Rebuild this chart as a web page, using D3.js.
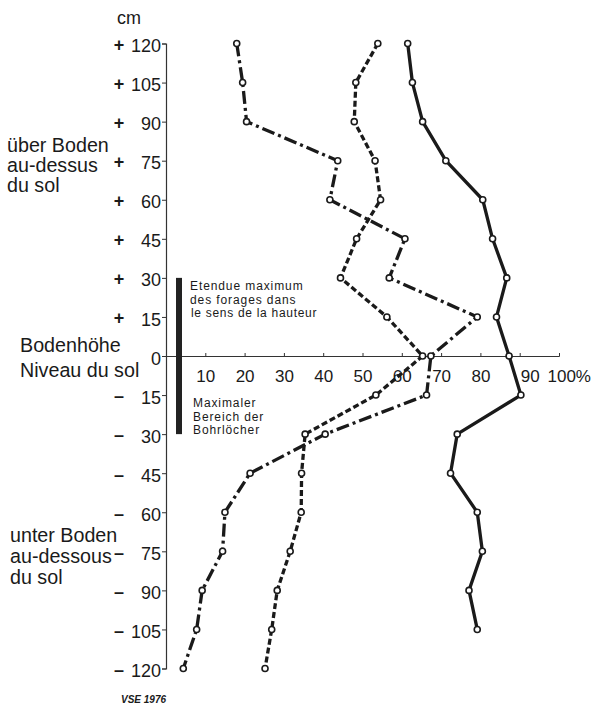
<!DOCTYPE html>
<html><head><meta charset="utf-8">
<script src="https://cdn.jsdelivr.net/npm/d3@7"></script>
<style>
html,body{margin:0;padding:0;background:#fff;}
text{fill:#1a1a1a;}
.narrow{font-family:'Liberation Sans',Arimo,Arial,sans-serif;}
.reg{font-family:'Liberation Sans',Arimo,Arial,sans-serif;}
</style></head><body>
<svg id="c" width="598" height="709"></svg>
<script>
// Heights above (+) / below (-) ground level, cm
const depths = [120,105,90,75,60,45,30,15,0,-15,-30,-45,-60,-75,-90,-105,-120];
// Percent values per series
const chainValues  = [18,19.5,20.5,43.7,41.7,60.8,56.8,79.2,67.4,66.3,40.5,21.4,15,14.4,9.2,7.8,4.4];
const dashedValues = [53.9,48.3,47.9,53.2,54.6,48.5,44.4,56.2,65.3,53.4,35.4,34.5,34.4,31.6,28.3,26.9,25.2];
const solidValues  = [61.5,62.7,65.3,71.2,80.6,83.1,86.7,84.1,87.3,90.3,74.1,72.4,79.2,80.5,77.1,79.2,null];
const yTicks = [120,105,90,75,60,45,30,15,0,-15,-30,-45,-60,-75,-90,-105,-120];
const xTicks = [10,20,30,40,50,60,70,80,90,100];

const svg = d3.select('#c');
const x = d3.scaleLinear().domain([0,100]).range([166,559]);
const y = d3.scaleLinear().domain([-120,120]).range([668.5,43.5]);

// y axis
const yAxis = d3.axisLeft(y).tickValues(yTicks).tickSize(4).tickPadding(1)
  .tickFormat(d => Math.abs(d));
const gy = svg.append('g').attr('transform','translate(166,0)').call(yAxis);
gy.attr('font-family',null).attr('font-size',null);
gy.select('.domain').attr('stroke','#333').attr('stroke-width',1.2);
gy.selectAll('.tick line').attr('stroke','#333');
gy.selectAll('.tick text').attr('class','reg').attr('font-size',18).attr('fill','#1a1a1a').attr('dy','0.45em');
gy.selectAll('.tick').append('text').attr('class','reg')
  .attr('x',-47).attr('dy','0.38em').attr('text-anchor','middle')
  .attr('font-size',18).attr('font-weight','bold').attr('fill','#1a1a1a')
  .text(d => d > 0 ? '+' : (d < 0 ? '\u2013' : ''));

// x axis along ground level
const xAxis = d3.axisBottom(x).tickValues(xTicks).tickSize(-3).tickPadding(14)
  .tickFormat(d => d === 100 ? '100%' : d);
const gx = svg.append('g').attr('transform',`translate(0,${y(0)})`).call(xAxis);
gx.attr('font-family',null).attr('font-size',null);
gx.select('.domain').attr('stroke','#333').attr('stroke-width',1);
gx.selectAll('.tick line').attr('stroke','#333');
gx.selectAll('.tick text').attr('class','reg').attr('font-size',17).attr('fill','#1a1a1a');
gx.selectAll('.tick text').filter(d => d === 100).attr('text-anchor','start').attr('dx',-12);
gx.selectAll('.tick text').filter(d => d === 90).attr('dx',10);

// range bar
svg.append('rect').attr('x',176).attr('width',6)
  .attr('y',y(30)).attr('height',y(-30)-y(30)).attr('fill','#222');

// texts
const T = (cls,xx,yy,s,size,ls) => svg.append('text').attr('class',cls).attr('x',xx).attr('y',yy)
  .attr('font-size',size).attr('letter-spacing',ls||0).text(s);
T('reg',117,24,'cm',18);
T('narrow',7,152,'über Boden',19.7); T('narrow',7,172,'au-dessus',19.7); T('narrow',7,192,'du sol',19.7);
T('narrow',20,352,'Bodenhöhe',19.7); T('narrow',20,377,'Niveau du sol',19.7);
T('narrow',10,542,'unter Boden',19.7); T('narrow',10,563,'au-dessous',19.7); T('narrow',10,584,'du sol',19.7);
T('reg',190,290,'Etendue maximum',12,0.9); T('reg',190,303.5,'des forages dans',12,0.9); T('reg',191,317,'le sens de la hauteur',12,0.7);
T('reg',193,407,'Maximaler',12,0.9); T('reg',193,420.5,'Bereich der',12,0.9); T('reg',193,434,'Bohrlöcher',12,0.9);
svg.append('text').attr('class','reg').attr('x',121).attr('y',703).attr('font-size',10)
  .attr('font-style','italic').attr('font-weight','bold').text('VSE 1976');

// series
const series = [
  {vals: chainValues, dash: '13,4,3,4'},
  {vals: dashedValues, dash: '6,3'},
  {vals: solidValues, dash: null}
];
const line = d3.line().x(d => x(d.v)).y(d => y(d.h));
series.forEach(s => {
  const pts = depths.map((h,i) => ({h, v: s.vals[i]})).filter(d => d.v != null);
  svg.append('path').datum(pts).attr('d',line).attr('fill','none')
    .attr('stroke','#1a1a1a').attr('stroke-width',3.3)
    .attr('stroke-dasharray',s.dash).attr('stroke-linejoin','round');
  svg.append('g').selectAll('circle').data(pts).join('circle')
    .attr('cx',d => x(d.v)).attr('cy',d => y(d.h)).attr('r',3)
    .attr('fill','#fff').attr('stroke','#1a1a1a').attr('stroke-width',1.6);
});
</script></body></html>
